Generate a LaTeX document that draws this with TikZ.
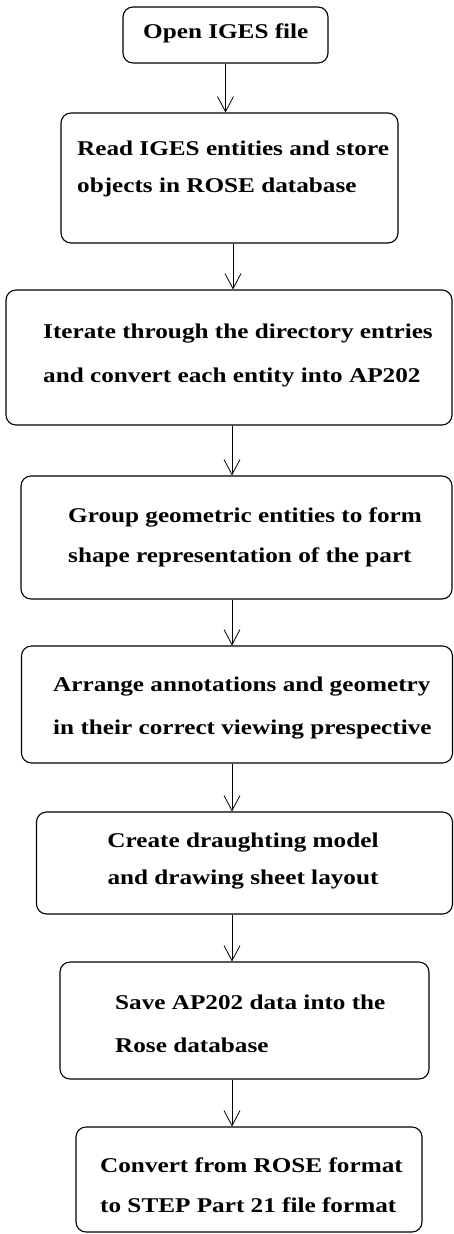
\documentclass[tikz,border=0pt]{standalone}
\usepackage{fontspec}
\setmainfont{Liberation Serif}[FakeStretch=1.2]
\usetikzlibrary{arrows.meta}
\begin{document}
\begin{tikzpicture}[x=1pt,y=-1pt,
  stepbox/.style={draw, line width=1.1pt, rounded corners=10pt, inner sep=0pt},
  txt/.style={font=\fontsize{21}{40}\selectfont\bfseries, align=left, inner sep=0pt},
  arr/.style={line width=0.8pt, -{Straight Barb[length=15pt,width=16pt,line width=0.8pt]}}]
\useasboundingbox (0,0) rectangle (454,1234);
\node[stepbox, minimum width=205pt, minimum height=56pt] (b1) at (225.5,35) {};
\node[stepbox, minimum width=337pt, minimum height=130pt] (b2) at (229.5,178) {};
\node[stepbox, minimum width=446pt, minimum height=135pt] (b3) at (229,357.5) {};
\node[stepbox, minimum width=431pt, minimum height=123pt] (b4) at (236.5,537.5) {};
\node[stepbox, minimum width=431pt, minimum height=117pt] (b5) at (237,704.5) {};
\node[stepbox, minimum width=416pt, minimum height=102pt] (b6) at (244.5,863) {};
\node[stepbox, minimum width=369pt, minimum height=117pt] (b7) at (244.5,1020.5) {};
\node[stepbox, minimum width=346pt, minimum height=105pt] (b8) at (249,1179.5) {};

\node[txt, anchor=west] (t1) at (143,33) {Open IGES file};
\node[txt, anchor=west] (t2) at (77,168.5) {Read IGES entities and store\\[-3pt]objects in ROSE database};
\node[txt, anchor=west] (t3) at (43,355) {Iterate through the directory entries\\[4pt]and convert each entity into AP202};
\node[txt, anchor=west] (t4) at (68,537) {Group geometric entities to form\\[0pt]shape representation of the part};
\node[txt, anchor=west] (t5) at (53,708.5) {Arrange annotations and geometry\\[3pt]in their correct viewing prespective};
\node[txt, align=center] (t6) at (243,861.5) {Create draughting model\\[-3pt]and drawing sheet layout};
\node[txt, anchor=west] (t7) at (115,1023.5) {Save AP202 data into the\\[3pt]Rose database};
\node[txt, anchor=west] (t8) at (100,1185) {Convert from ROSE format\\[0pt]to STEP Part 21 file format};

\coordinate (ax) at (232,0);
\draw[arr] (b1.south) -- (b1.south |- b2.north);
\draw[arr] (b2.south -| 233,0) -- (b3.north -| 233,0);
\draw[arr] (b3.south -| ax) -- (b4.north -| ax);
\draw[arr] (b4.south -| ax) -- (b5.north -| ax);
\draw[arr] (b5.south -| ax) -- (b6.north -| ax);
\draw[arr] (b6.south -| ax) -- (b7.north -| ax);
\draw[arr] (b7.south -| ax) -- (b8.north -| ax);
\end{tikzpicture}
\end{document}
